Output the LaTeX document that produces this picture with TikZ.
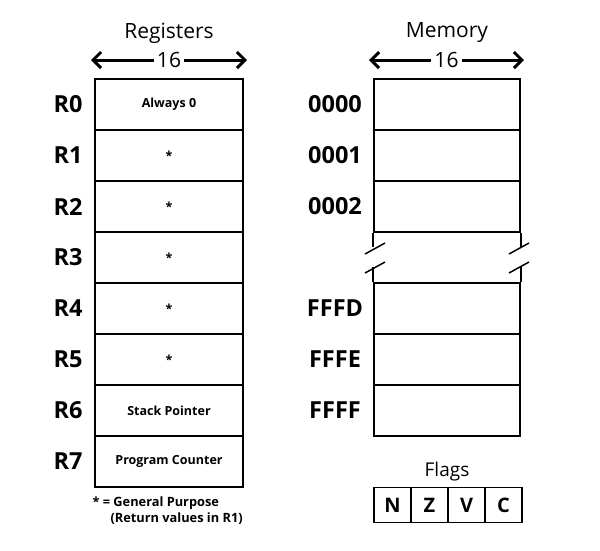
\documentclass[tikz,border=0pt]{standalone}
\usepackage{fontspec}
\setmainfont{Open Sans}
\usetikzlibrary{arrows.meta, positioning}

\tikzset{
	cell/.style={draw, rectangle, line width=1.8pt, minimum width=148pt,
		minimum height=51pt, inner sep=0pt, font=\fontsize{12.5}{14}\selectfont\bfseries},
	flagbox/.style={draw, rectangle, line width=1.8pt, minimum width=37pt,
		minimum height=35pt, inner sep=0pt, font=\fontsize{20}{22}\selectfont\bfseries},
	reglabel/.style={font=\fontsize{23.5}{26}\selectfont\bfseries},
	title/.style={font=\fontsize{21}{24}\selectfont},
	width/.style={line width=3pt, {Straight Barb[length=8pt,width=16pt,line width=3pt]}-{Straight Barb[length=8pt,width=16pt,line width=3pt]}},
}

\begin{document}
\begin{tikzpicture}[x=1pt, y=-1pt]
	\def \rowh {51}
	\def \regx {169}
	\def \memx {447}

	\useasboundingbox (0,0) rectangle (600,550);

	% registers
	\node[cell] (rzero)  at (\regx, {79 + \rowh*0.5}) {Always 0};
	\node[cell] (rone)   at (\regx, {79 + \rowh*1.5}) {*};
	\node[cell] (rtwo)   at (\regx, {79 + \rowh*2.5}) {*};
	\node[cell] (rthree) at (\regx, {79 + \rowh*3.5}) {*};
	\node[cell] (rfour)  at (\regx, {79 + \rowh*4.5}) {*};
	\node[cell] (rfive)  at (\regx, {79 + \rowh*5.5}) {*};
	\node[cell] (rsix)   at (\regx, {79 + \rowh*6.5}) {Stack Pointer};
	\node[cell] (rseven) at (\regx, {79 + \rowh*7.5}) {Program Counter};

	\node[reglabel] (lzero)  at (68, {79 + \rowh*0.5}) {R0};
	\node[reglabel] (lone)   at (68, {79 + \rowh*1.5}) {R1};
	\node[reglabel] (ltwo)   at (68, {79 + \rowh*2.5}) {R2};
	\node[reglabel] (lthree) at (68, {79 + \rowh*3.5}) {R3};
	\node[reglabel] (lfour)  at (68, {79 + \rowh*4.5}) {R4};
	\node[reglabel] (lfive)  at (68, {79 + \rowh*5.5}) {R5};
	\node[reglabel] (lsix)   at (68, {79 + \rowh*6.5}) {R6};
	\node[reglabel] (lseven) at (68, {79 + \rowh*7.5}) {R7};

	\node[title] (regtitle) at (\regx, 33) {Registers};
	\coordinate (regleft)  at (91, 60);
	\coordinate (regright) at (247, 60);
	\draw[width] (regleft) -- (regright)
		node[midway, fill=white, inner sep=3pt, title] (regbits) {16};

	\node[font=\fontsize{12.8}{16}\selectfont\bfseries, align=left, anchor=north west]
		(note) at (89, 493) {* = General Purpose\\\hspace{18pt}(Return values in R1)};

	% memory
	\node[cell, minimum width=146pt] (mzero) at (\memx, {79 + \rowh*0.5}) {};
	\node[cell, minimum width=146pt] (mone)  at (\memx, {79 + \rowh*1.5}) {};
	\node[cell, minimum width=146pt] (mtwo)  at (\memx, {79 + \rowh*2.5}) {};
	\node[cell, minimum width=146pt] (mfffd) at (\memx, {79 + \rowh*4.5}) {};
	\node[cell, minimum width=146pt] (mfffe) at (\memx, {79 + \rowh*5.5}) {};
	\node[cell, minimum width=146pt] (mffff) at (\memx, {79 + \rowh*6.5}) {};

	% cut in the middle row
	\draw[line width=1.8pt] (mtwo.south west) -- ++(0,14);
	\draw[line width=1.8pt] (mtwo.south east) -- ++(0,14);
	\draw[line width=1.8pt] (mfffd.north west) -- ++(0,-15);
	\draw[line width=1.8pt] (mfffd.north east) -- ++(0,-15);
	\draw[line width=1.5pt] (365,254) -- (385,243);
	\draw[line width=1.5pt] (365,273) -- (385,262);
	\draw[line width=1.5pt] (509,254) -- (529,243);
	\draw[line width=1.5pt] (509,273) -- (529,262);

	\node[reglabel] (azero) at (335, {79 + \rowh*0.5}) {0000};
	\node[reglabel] (aone)  at (335, {79 + \rowh*1.5}) {0001};
	\node[reglabel] (atwo)  at (335, {79 + \rowh*2.5}) {0002};
	\node[reglabel] (afffd) at (335, {79 + \rowh*4.5}) {FFFD};
	\node[reglabel] (afffe) at (335, {79 + \rowh*5.5}) {FFFE};
	\node[reglabel] (affff) at (335, {79 + \rowh*6.5}) {FFFF};

	\node[title] (memtitle) at (\memx, 33) {Memory};
	\coordinate (memleft)  at (369, 60);
	\coordinate (memright) at (524, 60);
	\draw[width] (memleft) -- (memright)
		node[midway, fill=white, inner sep=3pt, title] (membits) {16};

	% flags
	\node[flagbox] (flagn) at (392.5, 505) {N};
	\node[flagbox] (flagz) at (429.5, 505) {Z};
	\node[flagbox] (flagv) at (466.5, 505) {V};
	\node[flagbox] (flagc) at (503.5, 505) {C};
	\node[font=\fontsize{19}{22}\selectfont] (flagtitle) at (447, 472) {Flags};
\end{tikzpicture}
\end{document}
